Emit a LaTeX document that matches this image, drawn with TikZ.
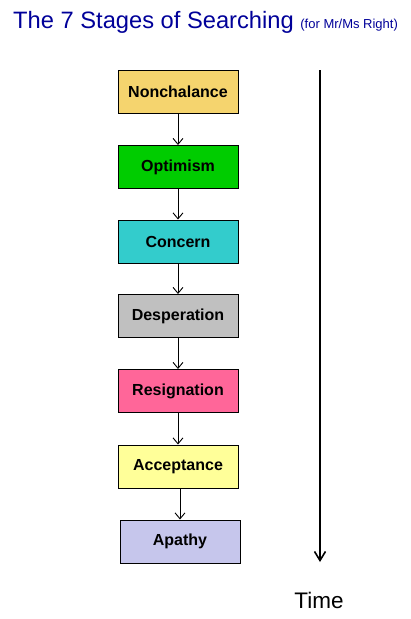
\documentclass[tikz,border=0pt]{standalone}
\usepackage{fontspec}
\setmainfont{Liberation Sans}
\usetikzlibrary{arrows.meta}
\definecolor{cNon}{HTML}{F5D46E}
\definecolor{cOpt}{HTML}{00CC00}
\definecolor{cCon}{HTML}{33CCCC}
\definecolor{cDes}{HTML}{C0C0C0}
\definecolor{cRes}{HTML}{FF6699}
\definecolor{cAcc}{HTML}{FFFF99}
\definecolor{cApa}{HTML}{C6C6EC}
\definecolor{cTitle}{HTML}{000099}
\tikzset{
  stage/.style={draw=black, line width=1pt, minimum width=120pt, minimum height=43pt, inner sep=0pt,
     font=\fontsize{16}{18}\selectfont\bfseries},
  flow/.style={line width=0.9pt, -{Straight Barb[length=6pt,width=10pt,line width=0.9pt]}},
  timearrow/.style={line width=2pt, -{Straight Barb[length=9pt,width=11pt,line width=1.6pt]}}
}
\begin{document}
\begin{tikzpicture}[x=1pt,y=-1pt]
\useasboundingbox (0,0) rectangle (410,619);
\node[anchor=base west, text=cTitle, inner sep=0pt] (title) at (13,28.5)
  {\fontsize{23.7}{26}\selectfont The 7 Stages of Searching \fontsize{13}{15}\selectfont (for Mr/Ms Right)};
\node[stage, fill=cNon] (n1) at (178,91.5) {Nonchalance};
\node[stage, fill=cOpt] (n2) at (178,167) {Optimism};
\node[stage, fill=cCon] (n3) at (178,241.5) {Concern};
\node[stage, fill=cDes] (n4) at (178,316) {Desperation};
\node[stage, fill=cRes] (n5) at (178,391) {Resignation};
\node[stage, fill=cAcc] (n6) at (178,466.5) {Acceptance};
\node[stage, fill=cApa] (n7) at (180,541.5) {Apathy};
\draw[flow] (n1) -- (n2);
\draw[flow] (n2) -- (n3);
\draw[flow] (n3) -- (n4);
\draw[flow] (n4) -- (n5);
\draw[flow] (n5) -- (n6);
\draw[flow] (n6.south -| n7.north) -- (n7.north);
\coordinate (t0) at (320,70);
\coordinate (t1) at (320,562);
\draw[timearrow] (t0) -- (t1);
\node[font=\fontsize{22.5}{25}\selectfont, inner sep=0pt, anchor=base] (time) at (319,608) {Time};
\end{tikzpicture}
\end{document}
